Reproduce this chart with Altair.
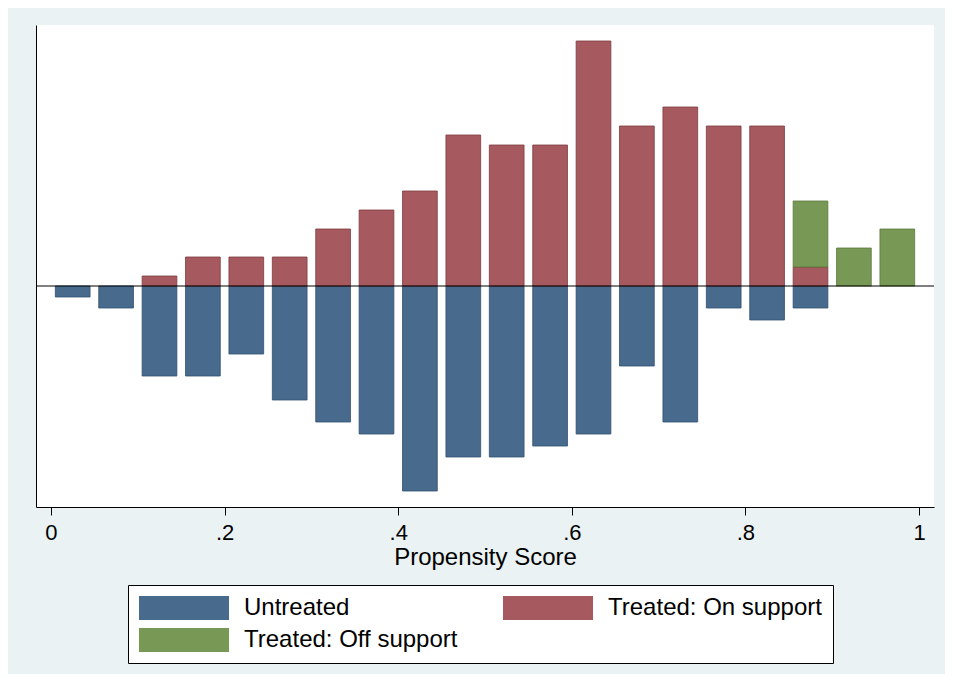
import altair as alt
import pandas as pd

# bin centres (width .05) and bar heights (arbitrary units)
centers = [0.025 + 0.05 * i for i in range(20)]
untreated = [11, 22, 90, 90, 68, 114, 136, 148, 205, 171, 171, 160, 148, 80, 136, 22, 34, 22, 0, 0]
on_support = [0, 0, 10, 29, 29, 29, 57, 76, 95, 151, 141, 141, 245, 160, 179, 160, 160, 19, 0, 0]
off_support = [0, 0, 0, 0, 0, 0, 0, 0, 0, 0, 0, 0, 0, 0, 0, 0, 0, 66, 38, 57]

# legend is filled column by column, so this order gives the reference's rows
groups = ["Untreated", "Treated: Off support", "Treated: On support"]
colors = ["#486a8c", "#789855", "#a65a5f"]
strokes = ["#2f4f70", "#5a7a3a", "#7d3a3f"]

rows = []
for c, u, o, f in zip(centers, untreated, on_support, off_support):
    if u:
        rows.append(dict(lo=c - 0.02, hi=c + 0.02, y=-u, y2=0, g="Untreated"))
    if o:
        rows.append(dict(lo=c - 0.02, hi=c + 0.02, y=0, y2=o, g="Treated: On support"))
    if f:
        rows.append(dict(lo=c - 0.02, hi=c + 0.02, y=o, y2=o + f, g="Treated: Off support"))
df = pd.DataFrame(rows)

xs = alt.Scale(domain=[-0.01728, 1.01728], nice=False, zero=False)
ys = alt.Scale(domain=[-221, 261], nice=False, zero=False)

bars = alt.Chart(df).mark_rect(strokeWidth=0.8).encode(
    x=alt.X("lo:Q", scale=xs, title="Propensity Score",
            axis=alt.Axis(values=[0, 0.2, 0.4, 0.6, 0.8, 1], grid=False,
                          labelExpr="datum.value == 0 ? '0' : datum.value == 1 ? '1' : replace(format(datum.value, '.1f'), '0.', '.')",
                          tickSize=8, labelPadding=7, titlePadding=2)),
    x2="hi:Q",
    y=alt.Y("y:Q", scale=ys, title=None,
            axis=alt.Axis(labels=False, ticks=False, grid=False, title=None)),
    y2="y2:Q",
    color=alt.Color("g:N", scale=alt.Scale(domain=groups, range=colors), title=None,
                    legend=alt.Legend(
                        orient="none", legendX=92, legendY=560, columns=2,
                        symbolType="M-1,-1H6.5V1H-1Z", symbolSize=576,
                        symbolStrokeWidth=0, symbolOpacity=1,
                        labelOffset=81, labelFontSize=24, labelLimit=400,
                        columnPadding=45, rowPadding=8, padding=11,
                        strokeColor="black", fillColor="white")),
    stroke=alt.Stroke("g:N", scale=alt.Scale(domain=groups, range=strokes), legend=None),
)

zero = alt.Chart(pd.DataFrame({"z": [0]})).mark_rule(color="black", strokeWidth=1).encode(
    y=alt.Y("z:Q", scale=ys)
)

chart = (bars + zero).properties(
    width=898, height=482,
    padding={"left": 27, "top": 17, "right": 10, "bottom": 10},
    background="#eaf2f3",
).configure_view(
    fill="white", strokeWidth=0,
).configure_axis(
    domainColor="black", tickColor="black", labelColor="black", titleColor="black",
    labelFont="Liberation Sans", titleFont="Liberation Sans",
    labelFontSize=22, titleFontSize=24, titleFontWeight="normal",
).configure_legend(
    labelFont="Liberation Sans", labelColor="black",
)

chart.save("out.html", embed_options={"renderer": "svg", "actions": False})
